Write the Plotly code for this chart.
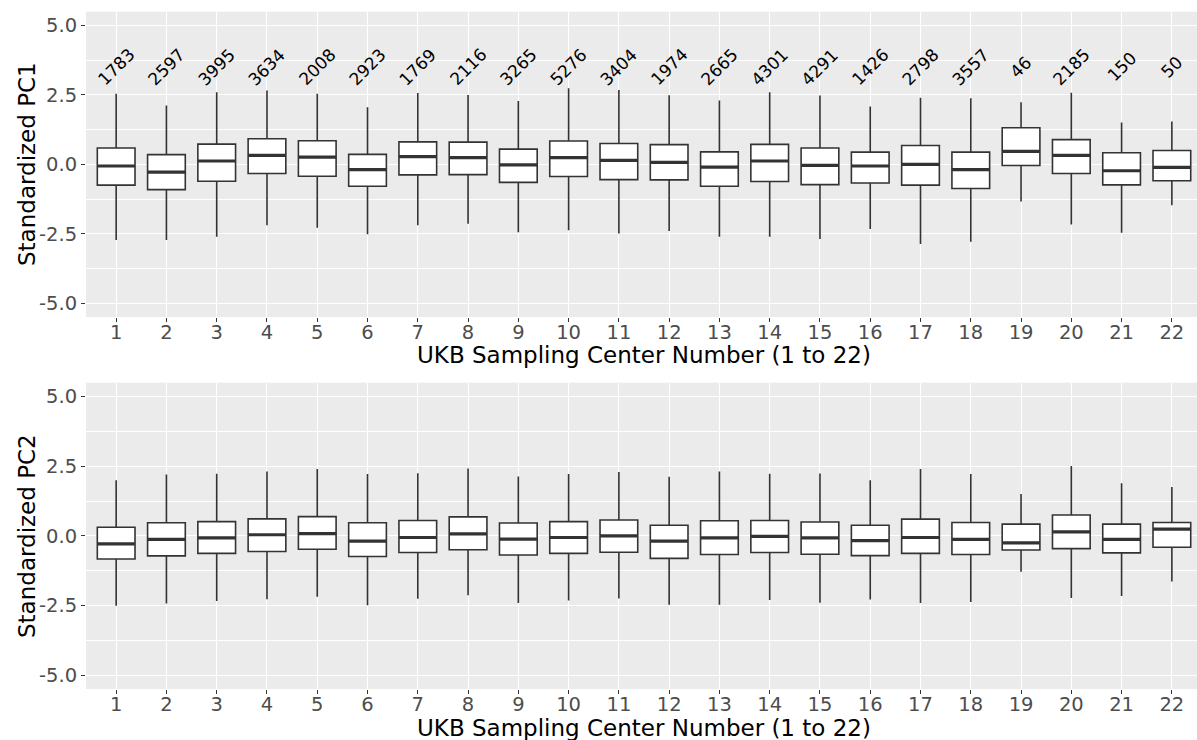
import plotly.graph_objects as go

centers = list(range(1, 23))
center_labels = [str(c) for c in centers]
counts = [1783, 2597, 3995, 3634, 2008, 2923, 1769, 2116, 3265, 5276, 3404,
          1974, 2665, 4301, 4291, 1426, 2798, 3557, 46, 2185, 150, 50]

# PC1 box statistics
pc1_low = [-2.73, -2.73, -2.61, -2.19, -2.28, -2.52, -2.19, -2.14, -2.45, -2.37, -2.49,
           -2.40, -2.61, -2.61, -2.69, -2.33, -2.87, -2.79, -1.34, -2.17, -2.46, -1.47]
pc1_q1 = [-0.75, -0.91, -0.61, -0.33, -0.43, -0.79, -0.38, -0.37, -0.65, -0.44, -0.55,
          -0.56, -0.79, -0.62, -0.73, -0.67, -0.75, -0.87, -0.04, -0.33, -0.74, -0.59]
pc1_med = [-0.06, -0.28, 0.12, 0.32, 0.26, -0.19, 0.28, 0.24, -0.02, 0.24, 0.14,
           0.07, -0.10, 0.12, -0.04, -0.06, 0.00, -0.19, 0.47, 0.32, -0.23, -0.11]
pc1_q3 = [0.59, 0.35, 0.73, 0.92, 0.85, 0.36, 0.81, 0.80, 0.55, 0.84, 0.75,
          0.71, 0.45, 0.72, 0.59, 0.44, 0.68, 0.44, 1.32, 0.89, 0.42, 0.50]
pc1_high = [2.54, 2.12, 2.60, 2.66, 2.54, 2.06, 2.57, 2.50, 2.28, 2.74, 2.68,
            2.49, 2.30, 2.60, 2.48, 2.08, 2.40, 2.38, 2.24, 2.58, 1.51, 1.54]

# PC2 box statistics
pc2_low = [-2.51, -2.43, -2.34, -2.28, -2.19, -2.49, -2.26, -2.13, -2.41, -2.32, -2.25,
           -2.47, -2.47, -2.30, -2.40, -2.29, -2.41, -2.38, -1.29, -2.23, -2.16, -1.64]
pc2_q1 = [-0.83, -0.72, -0.63, -0.56, -0.48, -0.74, -0.60, -0.50, -0.69, -0.63, -0.59,
          -0.81, -0.67, -0.60, -0.66, -0.71, -0.63, -0.67, -0.51, -0.46, -0.61, -0.41]
pc2_med = [-0.29, -0.13, -0.07, 0.04, 0.08, -0.19, -0.06, 0.07, -0.12, -0.06, 0.00,
           -0.19, -0.07, -0.02, -0.07, -0.17, -0.06, -0.13, -0.25, 0.14, -0.13, 0.24]
pc2_q3 = [0.31, 0.47, 0.51, 0.61, 0.69, 0.47, 0.55, 0.68, 0.46, 0.51, 0.57,
          0.38, 0.54, 0.55, 0.50, 0.38, 0.60, 0.48, 0.42, 0.75, 0.42, 0.48]
pc2_high = [2.00, 2.20, 2.23, 2.31, 2.40, 2.22, 2.25, 2.42, 2.13, 2.22, 2.29,
            2.12, 2.31, 2.23, 2.24, 2.00, 2.40, 2.22, 1.50, 2.51, 1.89, 1.75]

y_ticks = [-5, -2.5, 0, 2.5, 5]
y_ticktext = ["-5.0", "-2.5", "0.0", "2.5", "5.0"]

FONT = "DejaVu Sans"
BOX_W = 0.75
LINE_C = "#333333"

fig = go.Figure()


def add_panel(fig, low, q1, med, q3, high, xa, ya):
    fig.add_trace(go.Box(
        x=centers, lowerfence=low, q1=q1, median=med, q3=q3, upperfence=high,
        width=BOX_W, whiskerwidth=0, fillcolor="white",
        line=dict(color=LINE_C, width=1.6), boxpoints=False,
        xaxis=xa, yaxis=ya, showlegend=False))
    mx, my = [], []
    for c, m in zip(centers, med):
        mx += [c - BOX_W / 2, c + BOX_W / 2, None]
        my += [m, m, None]
    fig.add_trace(go.Scatter(x=mx, y=my, mode="lines",
                             line=dict(color=LINE_C, width=3.2),
                             xaxis=xa, yaxis=ya, showlegend=False, hoverinfo="skip"))


add_panel(fig, pc1_low, pc1_q1, pc1_med, pc1_q3, pc1_high, "x", "y")
add_panel(fig, pc2_low, pc2_q1, pc2_med, pc2_q3, pc2_high, "x2", "y2")

H = 740.0
W = 1197.0
top_dom = [1 - 317 / H, 1 - 11.7 / H]
bot_dom = [1 - 689 / H, 1 - 382.7 / H]
x_dom = [86 / W, 1.0]

xaxis_common = dict(
    range=[0.4, 22.5], tickmode="array", tickvals=centers, ticktext=center_labels,
    showgrid=True, gridcolor="white", gridwidth=1.4, zeroline=False, showline=False,
    ticks="outside", ticklen=4, tickwidth=1, tickcolor=LINE_C,
    tickfont=dict(family=FONT, size=19.5, color="#4D4D4D"), domain=x_dom,
    ticklabelstandoff=-6,
)
yaxis_common = dict(
    range=[-5.5, 5.5], tickmode="array", tickvals=y_ticks, ticktext=y_ticktext,
    showgrid=True, gridcolor="white", gridwidth=1.4, zeroline=False, showline=False,
    ticks="outside", ticklen=4, tickwidth=1, tickcolor=LINE_C,
    tickfont=dict(family=FONT, size=19.5, color="#4D4D4D"),
    minor=dict(tickvals=[-3.75, -1.25, 1.25, 3.75], showgrid=True,
               gridcolor="white", gridwidth=0.7, ticklen=0),
)

annotations = []
for c, n in zip(centers, counts):
    annotations.append(dict(x=c, y=3.5, xref="x", yref="y", text=str(n),
                            textangle=-45, showarrow=False,
                            font=dict(family=FONT, size=17, color="black"),
                            xanchor="center", yanchor="middle"))

for ycen in [355, 728]:
    annotations.append(dict(x=644 / W, y=1 - ycen / H, xref="paper", yref="paper",
                            text="UKB Sampling Center Number (1 to 22)", showarrow=False,
                            font=dict(family=FONT, size=23, color="black"),
                            xanchor="center", yanchor="middle"))
for ycen, lab in [(164, "Standardized PC1"), (536, "Standardized PC2")]:
    annotations.append(dict(x=27 / W, y=1 - ycen / H, xref="paper", yref="paper",
                            text=lab, textangle=-90, showarrow=False,
                            font=dict(family=FONT, size=23, color="black"),
                            xanchor="center", yanchor="middle"))

fig.update_layout(
    width=1197, height=740,
    margin=dict(l=0, r=0, t=0, b=0),
    paper_bgcolor="white", plot_bgcolor="#EBEBEB",
    xaxis=dict(**xaxis_common, anchor="y"),
    yaxis=dict(**yaxis_common, domain=top_dom, anchor="x"),
    xaxis2=dict(**xaxis_common, anchor="y2"),
    yaxis2=dict(**yaxis_common, domain=bot_dom, anchor="x2"),
    annotations=annotations,
    showlegend=False,
)

fig.write_html("out.html")
